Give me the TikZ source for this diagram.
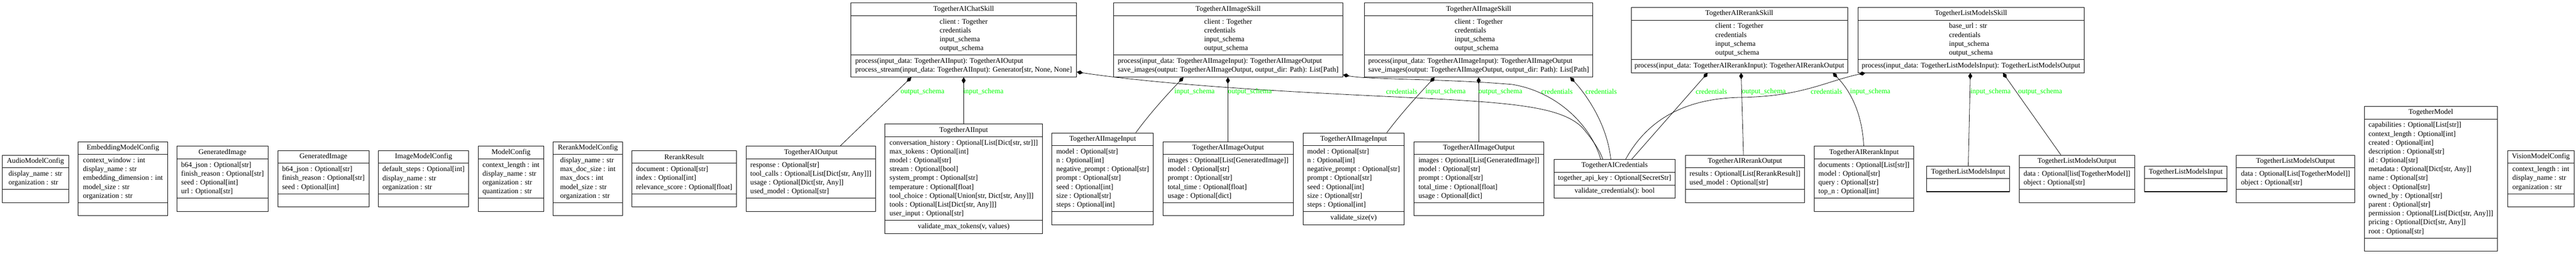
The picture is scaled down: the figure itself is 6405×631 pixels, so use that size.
\documentclass[tikz,border=0pt]{standalone}
\usepackage{fontspec}
\setmainfont{Liberation Serif}
\usetikzlibrary{arrows.meta,calc}
\newcommand{\clsfont}{\fontsize{18}{22}\selectfont}
\tikzset{
  clsframe/.style={draw=black, line width=1.2pt, rectangle, inner sep=0pt, fill=white},
  clsline/.style={draw=black, line width=1.2pt},
  clstext/.style={inner sep=0pt, align=left, font=\clsfont},
  comp/.style={draw=black, line width=1pt, {Diamond[length=16pt,width=10pt]}-},
  lbl/.style={inner sep=0pt, anchor=west, text=green, font=\clsfont}
}
% #1 name, #2 left x, #3 top y, #4 width, #5 attr height, #6 method height, #7 title, #8 attrs, #9 methods
\newcommand{\umlcls}[9]{%
  \node[clsframe, minimum width=#4, minimum height={32+#5+#6}, anchor=north west] (#1) at (#2,#3) {};
  \draw[clsline] ($(#1.north west)+(0,32)$) -- ($(#1.north east)+(0,32)$);
  \draw[clsline] ($(#1.north west)+(0,{32+#5})$) -- ($(#1.north east)+(0,{32+#5})$);
  \node[clstext] (#1-t) at ($(#1.north)+(0,16)$) {#7};
  \node[clstext] (#1-a) at ($(#1.north)+(0,{32+#5/2})$) {#8};
  \node[clstext] (#1-m) at ($(#1.north)+(0,{32+#5+#6/2})$) {#9};
}
\begin{document}
\begin{tikzpicture}[x=1pt,y=-1pt]
\fill[white] (0,0) rectangle (6405,631);
\useasboundingbox (0,0) rectangle (6405,631);

% ---------- lower rank ----------
\umlcls{audio}{5}{385}{165}{54}{32}{AudioModelConfig}{display\_name : str\\organization : str}{}
\umlcls{embed}{194}{352}{222}{120}{32}{EmbeddingModelConfig}{context\_window : int\\display\_name : str\\embedding\_dimension : int\\model\_size : str\\organization : str}{}
\umlcls{genA}{439}{363}{227}{98}{32}{GeneratedImage}{b64\_json : Optional[str]\\finish\_reason : Optional[str]\\seed : Optional[int]\\url : Optional[str]}{}
\umlcls{genB}{690}{374}{227}{76}{32}{GeneratedImage}{b64\_json : Optional[str]\\finish\_reason : Optional[str]\\seed : Optional[int]}{}
\umlcls{imgcfg}{940}{374}{225}{76}{32}{ImageModelConfig}{default\_steps : Optional[int]\\display\_name : str\\organization : str}{}
\umlcls{modelcfg}{1189}{363}{162}{98}{32}{ModelConfig}{context\_length : int\\display\_name : str\\organization : str\\quantization : str}{}
\umlcls{rerankcfg}{1375}{352}{172}{120}{32}{RerankModelConfig}{display\_name : str\\max\_doc\_size : int\\max\_docs : int\\model\_size : str\\organization : str}{}
\umlcls{rresult}{1570}{374}{261}{76}{32}{RerankResult}{document : Optional[str]\\index : Optional[int]\\relevance\_score : Optional[float]}{}
\umlcls{tout}{1855}{363}{321}{98}{32}{TogetherAIOutput}{response : Optional[str]\\tool\_calls : Optional[List[Dict[str, Any]]]\\usage : Optional[Dict[str, Any]]\\used\_model : Optional[str]}{}
\umlcls{tin}{2200}{308}{391}{208}{32}{TogetherAIInput}{conversation\_history : Optional[List[Dict[str, str]]]\\max\_tokens : Optional[int]\\model : Optional[str]\\stream : Optional[bool]\\system\_prompt : Optional[str]\\temperature : Optional[float]\\tool\_choice : Optional[Union[str, Dict[str, Any]]]\\tools : Optional[List[Dict[str, Any]]]\\user\_input : Optional[str]}{validate\_max\_tokens(v, values)}
\umlcls{imginA}{2615}{330}{252}{164}{32}{TogetherAIImageInput}{model : Optional[str]\\n : Optional[int]\\negative\_prompt : Optional[str]\\prompt : Optional[str]\\seed : Optional[int]\\size : Optional[str]\\steps : Optional[int]}{}
\umlcls{imgoutA}{2891}{352}{324}{120}{32}{TogetherAIImageOutput}{images : Optional[List[GeneratedImage]]\\model : Optional[str]\\prompt : Optional[str]\\total\_time : Optional[float]\\usage : Optional[dict]}{}
\umlcls{imginB}{3239}{330}{252}{164}{32}{TogetherAIImageInput}{model : Optional[str]\\n : Optional[int]\\negative\_prompt : Optional[str]\\prompt : Optional[str]\\seed : Optional[int]\\size : Optional[str]\\steps : Optional[int]}{validate\_size(v)}
\umlcls{imgoutB}{3515}{352}{323}{120}{32}{TogetherAIImageOutput}{images : Optional[List[GeneratedImage]]\\model : Optional[str]\\prompt : Optional[str]\\total\_time : Optional[float]\\usage : Optional[dict]}{}
\umlcls{cred}{3863}{396}{302}{32}{32}{TogetherAICredentials}{together\_api\_key : Optional[SecretStr]}{validate\_credentials(): bool}
\umlcls{rout}{4190}{385}{296}{54}{32}{TogetherAIRerankOutput}{results : Optional[List[RerankResult]]\\used\_model : Optional[str]}{}
\umlcls{rin}{4510}{363}{248}{98}{32}{TogetherAIRerankInput}{documents : Optional[List[str]]\\model : Optional[str]\\query : Optional[str]\\top\_n : Optional[int]}{}
\umlcls{lminA}{4790}{412}{206}{32}{0}{TogetherListModelsInput}{}{}
\umlcls{lmoutA}{5020}{385}{287}{54}{32}{TogetherListModelsOutput}{data : Optional[list[TogetherModel]]\\object : Optional[str]}{}
\umlcls{lminB}{5331}{412}{206}{32}{0}{TogetherListModelsInput}{}{}
\umlcls{lmoutB}{5560}{385}{294}{54}{32}{TogetherListModelsOutput}{data : Optional[List[TogetherModel]]\\object : Optional[str]}{}
\umlcls{tmodel}{5878}{264}{331}{296}{32}{TogetherModel}{capabilities : Optional[List[str]]\\context\_length : Optional[int]\\created : Optional[int]\\description : Optional[str]\\id : Optional[str]\\metadata : Optional[Dict[str, Any]]\\name : Optional[str]\\object : Optional[str]\\owned\_by : Optional[str]\\parent : Optional[str]\\permission : Optional[List[Dict[str, Any]]]\\pricing : Optional[Dict[str, Any]]\\root : Optional[str]}{}
\umlcls{vision}{6234}{374}{166}{76}{32}{VisionModelConfig}{context\_length : int\\display\_name : str\\organization : str}{}

% ---------- upper rank ----------
\umlcls{chat}{2115}{7}{561}{98}{54}{TogetherAIChatSkill}{client : Together\\credentials\\input\_schema\\output\_schema}{process(input\_data: TogetherAIInput): TogetherAIOutput\\process\_stream(input\_data: TogetherAIInput): Generator[str, None, None]}
\umlcls{imgA}{2768}{7}{570}{98}{54}{TogetherAIImageSkill}{client : Together\\credentials\\input\_schema\\output\_schema}{process(input\_data: TogetherAIImageInput): TogetherAIImageOutput\\save\_images(output: TogetherAIImageOutput, output\_dir: Path): List[Path]}
\umlcls{imgB}{3392}{7}{568}{98}{54}{TogetherAIImageSkill}{client : Together\\credentials\\input\_schema\\output\_schema}{process(input\_data: TogetherAIImageInput): TogetherAIImageOutput\\save\_images(output: TogetherAIImageOutput, output\_dir: Path): List[Path]}
\umlcls{rerank}{4055}{18}{538}{98}{32}{TogetherAIRerankSkill}{client : Together\\credentials\\input\_schema\\output\_schema}{process(input\_data: TogetherAIRerankInput): TogetherAIRerankOutput}
\umlcls{lms}{4619}{18}{562}{98}{32}{TogetherListModelsSkill}{base\_url : str\\credentials\\input\_schema\\output\_schema}{process(input\_data: TogetherListModelsInput): TogetherListModelsOutput}

% ---------- composition edges ----------
\draw[comp] ([xshift=151pt]chat.south west) -- ([xshift=234pt]tout.north west);
\draw[comp] ([xshift=281pt]chat.south west) -- ([xshift=196pt]tin.north west);
\draw[comp] ([yshift=-172pt]chat.north east) .. controls (2900,212) and (3200,228) .. (3450,240)
  .. controls (3750,254) and (3880,262) .. (3935,318) .. controls (3962,350) and (3980,378) .. ([xshift=122pt]cred.north west);

\draw[comp] ([xshift=174.5pt]imgA.south west) .. controls (2905,232) and (2862,278) .. ([xshift=209pt]imginA.north west);
\draw[comp] ([xshift=285pt]imgA.south west) -- ([xshift=162pt]imgoutA.north west);
\draw[comp] ([yshift=-179pt]imgA.north east) .. controls (3400,198) and (3600,196) .. (3760,210)
  .. controls (3870,228) and (3955,310) .. ([xshift=117pt]cred.north west);

\draw[comp] ([xshift=175pt]imgB.south west) .. controls (3530,232) and (3487,278) .. ([xshift=209pt]imginB.north west);
\draw[comp] ([xshift=284.5pt]imgB.south west) -- ([xshift=161.5pt]imgoutB.north west);
\draw[comp] ([xshift=512pt]imgB.south west) .. controls (3935,225) and (3995,300) .. ([xshift=142pt]cred.north west);

\draw[comp] ([xshift=191pt]rerank.south west) -- ([xshift=194pt]cred.north west);
\draw[comp] ([xshift=274pt]rerank.south west) -- ([xshift=145pt]rout.north west);
\draw[comp] ([xshift=502pt]rerank.south west) .. controls (4600,225) and (4630,280) .. ([xshift=124pt]rin.north west);

\draw[comp] ([xshift=19pt]lms.south west) .. controls (4540,202) and (4480,240) .. (4330,242)
  .. controls (4200,244) and (4100,290) .. ([xshift=179pt]cred.north west);
\draw[comp] ([xshift=280pt]lms.south west) -- ([xshift=104pt]lminA.north west);
\draw[comp] ([xshift=361pt]lms.south west) -- ([xshift=104pt]lmoutA.north west);

% ---------- edge labels ----------
\node[lbl] (l1) at (2239,228) {output\_schema};
\node[lbl] (l2) at (2395,228) {input\_schema};
\node[lbl] (l3) at (2920,228) {input\_schema};
\node[lbl] (l4) at (3053,228) {output\_schema};
\node[lbl] (l5) at (3446,228) {credentials};
\node[lbl] (l6) at (3544,228) {input\_schema};
\node[lbl] (l7) at (3676,228) {output\_schema};
\node[lbl] (l8) at (3832,228) {credentials};
\node[lbl] (l9) at (3942,228) {credentials};
\node[lbl] (l10) at (4216,228) {credentials};
\node[lbl] (l11) at (4331,228) {output\_schema};
\node[lbl] (l12) at (4502,228) {credentials};
\node[lbl] (l13) at (4600,228) {input\_schema};
\node[lbl] (l14) at (4899,228) {input\_schema};
\node[lbl] (l15) at (5018,228) {output\_schema};
\end{tikzpicture}
\end{document}
